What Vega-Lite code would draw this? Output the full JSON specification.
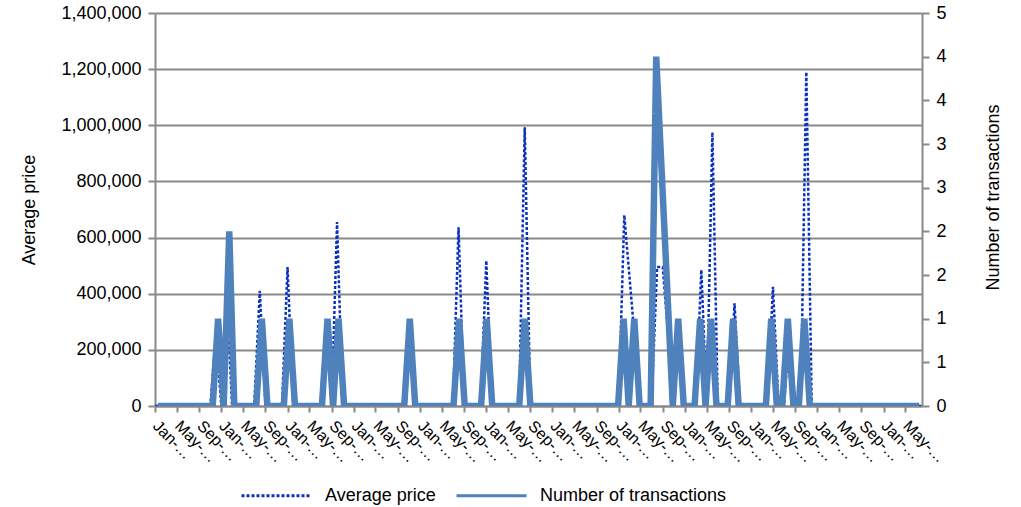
{
  "$schema": "https://vega.github.io/schema/vega-lite/v6.json",
  "width": 767,
  "height": 393,
  "autosize": {"type": "none"},
  "padding": {"left": 155, "top": 13, "right": 99, "bottom": 101},
  "background": "white",
  "config": {
    "font": "Liberation Sans",
    "view": {"stroke": null},
    "axis": {
      "domainColor": "#898989", "domainWidth": 2,
      "tickColor": "#898989", "tickWidth": 2,
      "gridColor": "#898989", "gridWidth": 2,
      "labelColor": "#000000", "titleColor": "#000000",
      "labelFontSize": 18, "titleFontSize": 18, "titleFontWeight": "normal"
    }
  },
  "data": {
    "values": [
      {"month": "2008-01-01", "price": 0, "transactions": 0},
      {"month": "2008-02-01", "price": 0, "transactions": 0},
      {"month": "2008-03-01", "price": 0, "transactions": 0},
      {"month": "2008-04-01", "price": 0, "transactions": 0},
      {"month": "2008-05-01", "price": 0, "transactions": 0},
      {"month": "2008-06-01", "price": 0, "transactions": 0},
      {"month": "2008-07-01", "price": 0, "transactions": 0},
      {"month": "2008-08-01", "price": 0, "transactions": 0},
      {"month": "2008-09-01", "price": 0, "transactions": 0},
      {"month": "2008-10-01", "price": 0, "transactions": 0},
      {"month": "2008-11-01", "price": 0, "transactions": 0},
      {"month": "2008-12-01", "price": 250000, "transactions": 1},
      {"month": "2009-01-01", "price": 0, "transactions": 0},
      {"month": "2009-02-01", "price": 380000, "transactions": 2},
      {"month": "2009-03-01", "price": 0, "transactions": 0},
      {"month": "2009-04-01", "price": 0, "transactions": 0},
      {"month": "2009-05-01", "price": 0, "transactions": 0},
      {"month": "2009-06-01", "price": 0, "transactions": 0},
      {"month": "2009-07-01", "price": 0, "transactions": 0},
      {"month": "2009-08-01", "price": 410000, "transactions": 1},
      {"month": "2009-09-01", "price": 0, "transactions": 0},
      {"month": "2009-10-01", "price": 0, "transactions": 0},
      {"month": "2009-11-01", "price": 0, "transactions": 0},
      {"month": "2009-12-01", "price": 0, "transactions": 0},
      {"month": "2010-01-01", "price": 495000, "transactions": 1},
      {"month": "2010-02-01", "price": 0, "transactions": 0},
      {"month": "2010-03-01", "price": 0, "transactions": 0},
      {"month": "2010-04-01", "price": 0, "transactions": 0},
      {"month": "2010-05-01", "price": 0, "transactions": 0},
      {"month": "2010-06-01", "price": 0, "transactions": 0},
      {"month": "2010-07-01", "price": 0, "transactions": 0},
      {"month": "2010-08-01", "price": 300000, "transactions": 1},
      {"month": "2010-09-01", "price": 0, "transactions": 0},
      {"month": "2010-10-01", "price": 655000, "transactions": 1},
      {"month": "2010-11-01", "price": 0, "transactions": 0},
      {"month": "2010-12-01", "price": 0, "transactions": 0},
      {"month": "2011-01-01", "price": 0, "transactions": 0},
      {"month": "2011-02-01", "price": 0, "transactions": 0},
      {"month": "2011-03-01", "price": 0, "transactions": 0},
      {"month": "2011-04-01", "price": 0, "transactions": 0},
      {"month": "2011-05-01", "price": 0, "transactions": 0},
      {"month": "2011-06-01", "price": 0, "transactions": 0},
      {"month": "2011-07-01", "price": 0, "transactions": 0},
      {"month": "2011-08-01", "price": 0, "transactions": 0},
      {"month": "2011-09-01", "price": 0, "transactions": 0},
      {"month": "2011-10-01", "price": 0, "transactions": 0},
      {"month": "2011-11-01", "price": 300000, "transactions": 1},
      {"month": "2011-12-01", "price": 0, "transactions": 0},
      {"month": "2012-01-01", "price": 0, "transactions": 0},
      {"month": "2012-02-01", "price": 0, "transactions": 0},
      {"month": "2012-03-01", "price": 0, "transactions": 0},
      {"month": "2012-04-01", "price": 0, "transactions": 0},
      {"month": "2012-05-01", "price": 0, "transactions": 0},
      {"month": "2012-06-01", "price": 0, "transactions": 0},
      {"month": "2012-07-01", "price": 0, "transactions": 0},
      {"month": "2012-08-01", "price": 637000, "transactions": 1},
      {"month": "2012-09-01", "price": 0, "transactions": 0},
      {"month": "2012-10-01", "price": 0, "transactions": 0},
      {"month": "2012-11-01", "price": 0, "transactions": 0},
      {"month": "2012-12-01", "price": 0, "transactions": 0},
      {"month": "2013-01-01", "price": 518000, "transactions": 1},
      {"month": "2013-02-01", "price": 0, "transactions": 0},
      {"month": "2013-03-01", "price": 0, "transactions": 0},
      {"month": "2013-04-01", "price": 0, "transactions": 0},
      {"month": "2013-05-01", "price": 0, "transactions": 0},
      {"month": "2013-06-01", "price": 0, "transactions": 0},
      {"month": "2013-07-01", "price": 0, "transactions": 0},
      {"month": "2013-08-01", "price": 993000, "transactions": 1},
      {"month": "2013-09-01", "price": 0, "transactions": 0},
      {"month": "2013-10-01", "price": 0, "transactions": 0},
      {"month": "2013-11-01", "price": 0, "transactions": 0},
      {"month": "2013-12-01", "price": 0, "transactions": 0},
      {"month": "2014-01-01", "price": 0, "transactions": 0},
      {"month": "2014-02-01", "price": 0, "transactions": 0},
      {"month": "2014-03-01", "price": 0, "transactions": 0},
      {"month": "2014-04-01", "price": 0, "transactions": 0},
      {"month": "2014-05-01", "price": 0, "transactions": 0},
      {"month": "2014-06-01", "price": 0, "transactions": 0},
      {"month": "2014-07-01", "price": 0, "transactions": 0},
      {"month": "2014-08-01", "price": 0, "transactions": 0},
      {"month": "2014-09-01", "price": 0, "transactions": 0},
      {"month": "2014-10-01", "price": 0, "transactions": 0},
      {"month": "2014-11-01", "price": 0, "transactions": 0},
      {"month": "2014-12-01", "price": 0, "transactions": 0},
      {"month": "2015-01-01", "price": 0, "transactions": 0},
      {"month": "2015-02-01", "price": 680000, "transactions": 1},
      {"month": "2015-03-01", "price": null, "transactions": 0},
      {"month": "2015-04-01", "price": null, "transactions": 1},
      {"month": "2015-05-01", "price": 0, "transactions": 0},
      {"month": "2015-06-01", "price": 0, "transactions": 0},
      {"month": "2015-07-01", "price": 0, "transactions": 0},
      {"month": "2015-08-01", "price": 495000, "transactions": 4},
      {"month": "2015-09-01", "price": 495000, "transactions": null},
      {"month": "2015-10-01", "price": null, "transactions": null},
      {"month": "2015-11-01", "price": 0, "transactions": 0},
      {"month": "2015-12-01", "price": 280000, "transactions": 1},
      {"month": "2016-01-01", "price": 0, "transactions": 0},
      {"month": "2016-02-01", "price": 0, "transactions": 0},
      {"month": "2016-03-01", "price": 0, "transactions": 0},
      {"month": "2016-04-01", "price": 485000, "transactions": 1},
      {"month": "2016-05-01", "price": 0, "transactions": 0},
      {"month": "2016-06-01", "price": 975000, "transactions": 1},
      {"month": "2016-07-01", "price": 0, "transactions": 0},
      {"month": "2016-08-01", "price": 0, "transactions": 0},
      {"month": "2016-09-01", "price": 0, "transactions": 0},
      {"month": "2016-10-01", "price": 366000, "transactions": 1},
      {"month": "2016-11-01", "price": 0, "transactions": 0},
      {"month": "2016-12-01", "price": 0, "transactions": 0},
      {"month": "2017-01-01", "price": 0, "transactions": 0},
      {"month": "2017-02-01", "price": 0, "transactions": 0},
      {"month": "2017-03-01", "price": 0, "transactions": 0},
      {"month": "2017-04-01", "price": 0, "transactions": 0},
      {"month": "2017-05-01", "price": 425000, "transactions": 1},
      {"month": "2017-06-01", "price": 0, "transactions": 0},
      {"month": "2017-07-01", "price": 0, "transactions": 0},
      {"month": "2017-08-01", "price": 280000, "transactions": 1},
      {"month": "2017-09-01", "price": 0, "transactions": 0},
      {"month": "2017-10-01", "price": 0, "transactions": 0},
      {"month": "2017-11-01", "price": 1190000, "transactions": 1},
      {"month": "2017-12-01", "price": 0, "transactions": 0},
      {"month": "2018-01-01", "price": 0, "transactions": 0},
      {"month": "2018-02-01", "price": 0, "transactions": 0},
      {"month": "2018-03-01", "price": 0, "transactions": 0},
      {"month": "2018-04-01", "price": 0, "transactions": 0},
      {"month": "2018-05-01", "price": 0, "transactions": 0},
      {"month": "2018-06-01", "price": 0, "transactions": 0},
      {"month": "2018-07-01", "price": 0, "transactions": 0},
      {"month": "2018-08-01", "price": 0, "transactions": 0},
      {"month": "2018-09-01", "price": 0, "transactions": 0},
      {"month": "2018-10-01", "price": 0, "transactions": 0},
      {"month": "2018-11-01", "price": 0, "transactions": 0},
      {"month": "2018-12-01", "price": 0, "transactions": 0},
      {"month": "2019-01-01", "price": 0, "transactions": 0},
      {"month": "2019-02-01", "price": 0, "transactions": 0},
      {"month": "2019-03-01", "price": 0, "transactions": 0},
      {"month": "2019-04-01", "price": 0, "transactions": 0},
      {"month": "2019-05-01", "price": 0, "transactions": 0},
      {"month": "2019-06-01", "price": 0, "transactions": 0},
      {"month": "2019-07-01", "price": 0, "transactions": 0},
      {"month": "2019-08-01", "price": 0, "transactions": 0}
    ]
  },
  "layer": [
    {
      "mark": {"type": "line", "invalid": "filter", "clip": true, "strokeWidth": 2.5},
      "encoding": {
        "x": {
          "field": "month", "type": "temporal",
          "scale": {"type": "utc", "nice": false,
            "domain": [{"year": 2008, "month": 1, "date": 1, "utc": true}, {"year": 2019, "month": 8, "date": 1, "utc": true}]},
          "axis": {
            "title": null, "grid": false,
            "tickCount": {"interval": "month", "step": 4},
            "labelExpr": "utcFormat(datum.value, '%b') + '-…'",
            "labelAngle": 45, "labelAlign": "left", "labelBaseline": "middle",
            "labelFontSize": 16, "labelPadding": 11, "tickSize": 6,
            "labelOverlap": false, "labelFlush": false, "labelBound": false
          }
        },
        "y": {
          "field": "price", "type": "quantitative",
          "scale": {"domain": [0, 1400000], "nice": false},
          "axis": {
            "title": "Average price", "grid": true,
            "values": [0, 200000, 400000, 600000, 800000, 1000000, 1200000, 1400000],
            "format": ",.0f", "tickSize": 7, "labelPadding": 7, "titlePadding": 22
          }
        },
        "color": {
          "datum": "Average price",
          "scale": {"domain": ["Average price", "Number of transactions"], "range": ["#0a30bf", "#4f81bd"]},
          "legend": {
            "title": null, "orient": "none", "legendX": 85, "legendY": 446,
            "direction": "horizontal", "symbolType": "stroke", "symbolSize": 4900,
            "symbolStrokeWidth": 3, "labelLimit": 400,
            "labelFontSize": 18, "labelColor": "#000000", "labelOffset": 12, "columnPadding": 14
          }
        },
        "strokeDash": {
          "datum": "Average price",
          "scale": {"domain": ["Average price", "Number of transactions"], "range": [[3, 2], [1, 0]]},
          "legend": {
            "title": null, "orient": "none", "legendX": 85, "legendY": 446,
            "direction": "horizontal", "symbolType": "stroke", "symbolSize": 4900,
            "symbolStrokeWidth": 3, "labelLimit": 400,
            "labelFontSize": 18, "labelColor": "#000000", "labelOffset": 12, "columnPadding": 14
          }
        }
      }
    },
    {
      "mark": {"type": "line", "invalid": "filter", "clip": true, "strokeWidth": 6.5},
      "encoding": {
        "x": {
          "field": "month", "type": "temporal",
          "scale": {"type": "utc", "nice": false,
            "domain": [{"year": 2007, "month": 12, "date": 16, "hours": 12, "utc": true}, {"year": 2019, "month": 8, "date": 16, "hours": 12, "utc": true}]},
          "axis": null
        },
        "y": {
          "field": "transactions", "type": "quantitative",
          "scale": {"domain": [0, 4.5], "nice": false},
          "axis": {
            "orient": "right", "title": "Number of transactions", "grid": false,
            "values": [0, 0.5, 1, 1.5, 2, 2.5, 3, 3.5, 4, 4.5],
            "format": ".0f", "tickSize": 7, "labelPadding": 7,
            "titleAngle": 270, "titleBaseline": "top", "titlePadding": 38, "titleY": 184
          }
        },
        "color": {"datum": "Number of transactions"},
        "strokeDash": {"datum": "Number of transactions"}
      }
    }
  ],
  "resolve": {"scale": {"x": "independent", "y": "independent"}}
}
